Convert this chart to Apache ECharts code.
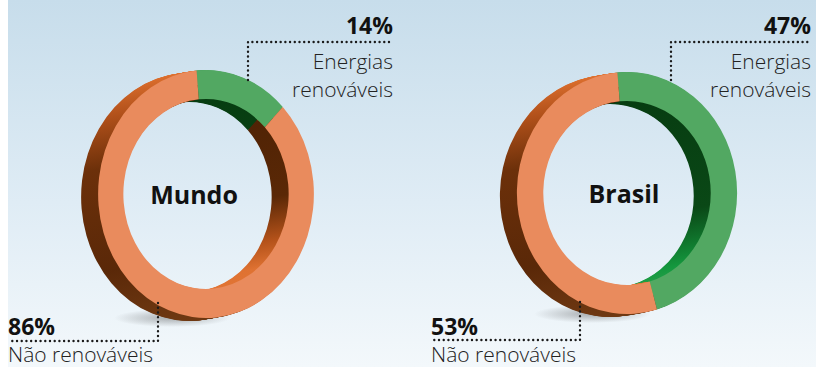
<!DOCTYPE html>
<html><head><meta charset="utf-8">
<script src="https://cdn.jsdelivr.net/npm/echarts@6/dist/echarts.min.js"></script>
<style>html,body{margin:0;padding:0;background:#fff}#c{width:816px;height:367px}</style>
</head><body><div id="c"></div>
<script>
// ---- data ----
const countries = ['Mundo', 'Brasil'];
const categories = ['Energias renováveis', 'Não renováveis'];
const renewable = [14, 47];
const nonRenewable = [86, 53];

// ---- layout / style ----
const layout = [
  {cx: 206, cy: 194, R: 124, r0: 95, sx: 0.87, textDx: -12},
  {cx: 627, cy: 193, R: 121, r0: 92, sx: 0.91, textDx: -3}
];
const DEPTH = {dx: -17, dy: 3, steps: 17};
const START = -95 * Math.PI / 180;
const faceColors = ['#52a862', '#e98b5d'];
const FONT = "'Open Sans', sans-serif";

function lg(R, stops) {
  return {type: 'linear', x: 0, y: -R, x2: 0, y2: R, global: true,
    colorStops: stops.map(s => ({offset: s[0], color: s[1]}))};
}
function outerGrad(idx, R) {
  return idx === 0
    ? lg(R, [[0, '#3f9a55'], [0.4, '#1e6a2e'], [1, '#15501f']])
    : lg(R, [[0, '#e0712f'], [0.18, '#b0501a'], [0.4, '#6c300a'], [0.8, '#5a2808'], [1, '#6e3812']]);
}
function innerGrad(idx, R) {
  return idx === 0
    ? lg(R, [[0, '#063a10'], [0.55, '#0a4816'], [0.8, '#14983e'], [1, '#3aaa58']])
    : lg(R, [[0, '#4a2004'], [0.5, '#5a2806'], [0.68, '#b4521a'], [0.8, '#df7232'], [1, '#e47838']]);
}

function valuesOf(ci) { return [renewable[ci], nonRenewable[ci]]; }
function angles(ci, idx, v) {
  const vals = valuesOf(ci);
  const total = vals.reduce((a, b) => a + b, 0);
  let before = 0;
  for (let i = 0; i < idx; i++) before += vals[i];
  const s = START + before / total * Math.PI * 2;
  return [s, s + v / total * Math.PI * 2];
}

function wallRender(ci) {
  return function (params, api) {
    const L = layout[ci], idx = params.dataIndex;
    const [s, e] = angles(ci, idx, api.value(0));
    const rm = (L.R + L.r0) / 2;
    const children = [];
    for (let k = DEPTH.steps; k >= 1; k--) {
      const t = k / DEPTH.steps;
      const x = L.cx + DEPTH.dx * t, y = L.cy + DEPTH.dy * t;
      children.push({type: 'sector', x, y, scaleX: L.sx,
        shape: {cx: 0, cy: 0, r: rm + 0.5, r0: L.r0, startAngle: s, endAngle: e, clockwise: true},
        style: {fill: innerGrad(idx, L.R)}});
      children.push({type: 'sector', x, y, scaleX: L.sx,
        shape: {cx: 0, cy: 0, r: L.R, r0: rm, startAngle: s, endAngle: e, clockwise: true},
        style: {fill: outerGrad(idx, L.R)}});
    }
    return {type: 'group', children};
  };
}
function faceRender(ci) {
  return function (params, api) {
    const L = layout[ci], idx = params.dataIndex;
    const [s, e] = angles(ci, idx, api.value(0));
    return {type: 'sector', x: L.cx, y: L.cy, scaleX: L.sx,
      shape: {cx: 0, cy: 0, r: L.R, r0: L.r0, startAngle: s, endAngle: e, clockwise: true},
      style: {fill: faceColors[idx]}};
  };
}

const series = [];
countries.forEach((c, ci) => {
  const data = valuesOf(ci).map((v, i) => ({name: categories[i], value: v}));
  series.push({type: 'custom', name: c + ' wall', coordinateSystem: 'none', z: 2, silent: true,
    renderItem: wallRender(ci), data});
  series.push({type: 'custom', name: c, coordinateSystem: 'none', z: 3, silent: true,
    renderItem: faceRender(ci), data});
});

// annotation geometry
const ann = [
  {top: {x: 393, line: [[248, 80], [248, 42], [392, 42]]},
   bot: {x: 8, line: [[158, 303], [158, 341], [10, 341]]},
   shadow: [172, 318]},
  {top: {x: 811, line: [[671, 80], [671, 42], [811, 42]]},
   bot: {x: 431, line: [[580, 302], [580, 340], [432, 340]]},
   shadow: [592, 314]}
];

const graphic = [
  {type: 'rect', z: -10, silent: true, shape: {x: 8, y: 0, width: 808, height: 367},
   style: {fill: {type: 'linear', x: 0, y: 0, x2: 0, y2: 1,
     colorStops: [{offset: 0, color: '#c7ddeb'}, {offset: 0.55, color: '#dfecf5'}, {offset: 1, color: '#f3f8fb'}]}}}
];
countries.forEach((c, ci) => {
  const L = layout[ci], A = ann[ci];
  graphic.push({type: 'ellipse', z: 1, silent: true,
    shape: {cx: A.shadow[0], cy: A.shadow[1], rx: 58, ry: 9},
    style: {fill: {type: 'radial', x: 0.5, y: 0.5, r: 0.5,
      colorStops: [{offset: 0, color: 'rgba(40,40,40,0.35)'}, {offset: 1, color: 'rgba(40,40,40,0)'}]}}});
  graphic.push({type: 'text', z: 10, x: L.cx + L.textDx, y: L.cy,
    style: {text: c, fill: '#111', font: 'bold 25px ' + FONT, align: 'center', verticalAlign: 'middle'}});
  graphic.push({type: 'text', z: 10, x: A.top.x, y: 25,
    style: {text: renewable[ci] + '%', fill: '#111', font: 'bold 23px ' + FONT, align: 'right', verticalAlign: 'middle'}});
  const parts = categories[0].split(' ');
  graphic.push({type: 'text', z: 10, x: A.top.x, y: 61,
    style: {text: parts[0], fill: '#222', font: '300 21px ' + FONT, align: 'right', verticalAlign: 'middle'}});
  graphic.push({type: 'text', z: 10, x: A.top.x, y: 89,
    style: {text: parts[1], fill: '#222', font: '300 21px ' + FONT, align: 'right', verticalAlign: 'middle'}});
  graphic.push({type: 'text', z: 10, x: A.bot.x, y: 326,
    style: {text: nonRenewable[ci] + '%', fill: '#111', font: 'bold 23px ' + FONT, align: 'left', verticalAlign: 'middle'}});
  graphic.push({type: 'text', z: 10, x: A.bot.x, y: 354,
    style: {text: categories[1], fill: '#222', font: '300 21px ' + FONT, align: 'left', verticalAlign: 'middle'}});
  [A.top.line, A.bot.line].forEach(pts => graphic.push({type: 'polyline', z: 10, silent: true,
    shape: {points: pts},
    style: {stroke: '#1a1a1a', lineWidth: 2.4, lineCap: 'round', lineDash: [0.01, 4.7], fill: null}}));
});

const chart = echarts.init(document.getElementById('c'), null, {renderer: 'svg'});
chart.setOption({animation: false, backgroundColor: '#ffffff', graphic, series});
</script></body></html>
